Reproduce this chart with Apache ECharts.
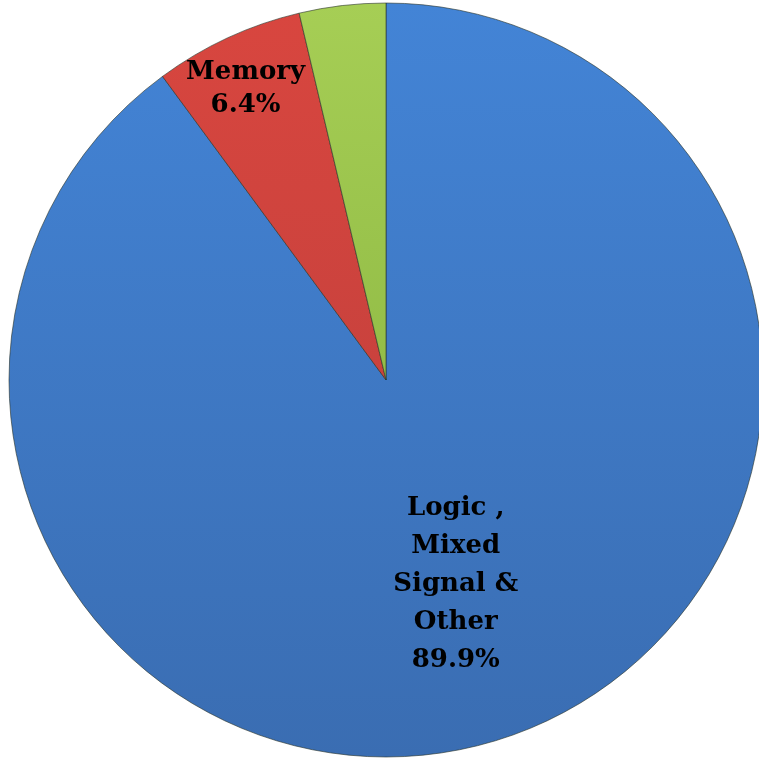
<!DOCTYPE html>
<html>
<head>
<meta charset="utf-8">
<script src="https://cdn.jsdelivr.net/npm/echarts@6/dist/echarts.min.js"></script>
<style>html,body{margin:0;padding:0;background:#fff}#c{width:759px;height:759px}</style>
</head>
<body>
<div id="c"></div>
<script>
const categories = ['Logic , Mixed Signal & Other', 'Memory', 'Other Segment'];
const values = [89.9, 6.4, 3.7];
const labelTexts = ['Logic ,\nMixed\nSignal &\nOther\n89.9%', 'Memory\n6.4%', ''];

function lin(top, bottom) {
  return {
    type: 'linear', x: 0, y: 0, x2: 0, y2: 1,
    colorStops: [
      { offset: 0, color: top },
      { offset: 1, color: bottom }
    ]
  };
}
const colors = [lin('#4384D6', '#3A6DB2'), lin('#D8463F', '#C9423D'), lin('#A6CE55', '#93BD47')];
const offsets = [[10, 22], [-60, -117], [0, 0]];

const chart = echarts.init(document.getElementById('c'));
chart.setOption({
  animation: false,
  series: [{
    type: 'pie',
    center: [386, 380],
    radius: 377,
    startAngle: 90,
    clockwise: true,
    itemStyle: { borderColor: 'rgba(40,50,40,0.6)', borderWidth: 1 },
    label: {
      show: true,
      position: 'inside',
      fontFamily: 'DejaVu Serif',
      fontWeight: 'bold',
      fontSize: 26,
      lineHeight: 38,
      color: '#000',
      align: 'center'
    },
    labelLine: { show: false },
    emphasis: { disabled: true },
    data: categories.map((n, i) => ({
      name: n,
      value: values[i],
      itemStyle: { color: colors[i] },
      label: { show: labelTexts[i] !== '', formatter: labelTexts[i], offset: offsets[i], lineHeight: i === 1 ? 33 : 38 }
    }))
  }]
});
</script>
</body>
</html>
